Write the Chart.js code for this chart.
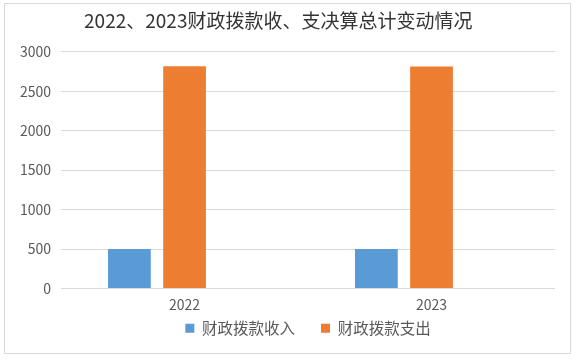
<!DOCTYPE html>
<html lang="zh">
  <head>
    <meta charset="UTF-8" />
    <title>财政拨款收、支决算总计变动情况</title>
    <script src="https://cdn.jsdelivr.net/npm/chart.js@4"></script>
    <style>
      body { margin: 0; background: #fff; }
      .frame {
        position: absolute;
        left: 4px;
        top: 3px;
        width: 567px;
        height: 351px;
        border: 1px solid #d9d9d9;
        box-sizing: border-box;
      }
    </style>
  </head>
  <body>
    <div class="frame">
      <canvas id="chart"></canvas>
    </div>

    <script>
      const years = ["2022", "2023"];
      const income = [502, 500];
      const spending = [2817, 2815];
      const yTicks = [0, 500, 1000, 1500, 2000, 2500, 3000];

      const font = "'Noto Sans CJK SC', 'Noto Sans', sans-serif";

      const ctx = document.getElementById("chart").getContext("2d");
      new Chart(ctx, {
        type: "bar",
        data: {
          labels: years,
          datasets: [
            { label: "财政拨款收入", data: income, backgroundColor: "#5B9BD5" },
            { label: "财政拨款支出", data: spending, backgroundColor: "#ED7D31" },
            // empty third column kept so the bars sit where they do in the original
            { label: "", data: [null, null], backgroundColor: "rgba(0,0,0,0)" },
          ],
        },
        options: {
          responsive: true,
          maintainAspectRatio: false,
          animation: false,
          layout: { padding: { left: 5, right: 15, top: 4, bottom: 7 } },
          datasets: {
            bar: { categoryPercentage: 0.67, barPercentage: 0.775 },
          },
          plugins: {
            title: {
              display: true,
              // trailing space nudges the title a little left, like the original
              text: "2022、2023财政拨款收、支决算总计变动情况  ",
              color: "#333333",
              font: { family: font, size: 19, weight: "normal" },
              padding: { top: 1, bottom: 20 },
            },
            legend: {
              position: "bottom",
              fullSize: false,
              labels: {
                generateLabels: (chart) => {
                  const items = Chart.defaults.plugins.legend.labels
                    .generateLabels(chart)
                    .filter((item) => item.text !== "");
                  items.forEach((item, i) => {
                    if (i < items.length - 1) item.text += "\u3000   ";
                  });
                  return items;
                },
                color: "#595959",
                font: { family: font, size: 15.5 },
                boxWidth: 9,
                boxHeight: 9,
                padding: 0,
              },
            },
            tooltip: { enabled: false },
          },
          scales: {
            x: {
              grid: { display: false, drawTicks: false },
              border: { display: false },
              ticks: {
                color: "#595959",
                font: { family: font, size: 14, lineHeight: 1 },
                padding: 9,
              },
            },
            y: {
              min: 0,
              max: 3000,
              afterBuildTicks: (axis) => {
                axis.ticks = yTicks.map((v) => ({ value: v }));
              },
              grid: { color: "#d9d9d9", drawTicks: false },
              border: { display: false },
              ticks: {
                color: "#595959",
                font: { family: font, size: 14 },
                padding: 10,
                callback: (v) => String(v),
              },
            },
          },
        },
      });
    </script>
  </body>
</html>
